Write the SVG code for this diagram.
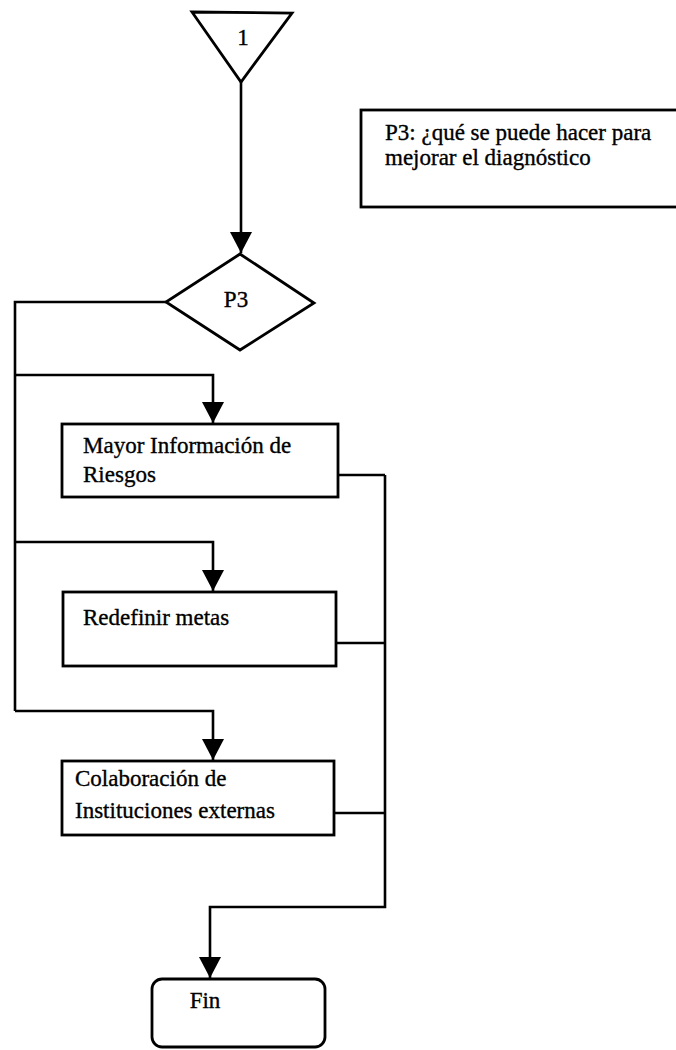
<svg xmlns="http://www.w3.org/2000/svg" width="676" height="1050" viewBox="0 0 676 1050">
  <style>
    .shape { fill: #fff; stroke: #000; stroke-width: 2.8; stroke-linejoin: miter; }
    .wire { fill: none; stroke: #000; stroke-width: 2.6; }
    .label { font-family: "Liberation Serif", "Times New Roman", serif; font-size: 23px; fill: #000; stroke: #000; stroke-width: 0.35; }
    .mid { text-anchor: middle; }
  </style>
  <defs>
    <marker id="arrow" markerUnits="userSpaceOnUse" markerWidth="24" markerHeight="24" viewBox="0 -12 22 24" refX="21" refY="0" orient="auto">
      <path d="M0,-11 L21,0 L0,11 Z" fill="#000"/>
    </marker>
  </defs>
  <rect width="676" height="1050" fill="#fff"/>

  <!-- connectors -->
  <g id="connectors">
    <path class="wire" d="M241,82 V253" marker-end="url(#arrow)"/>
    <path class="wire" d="M166,302 H15 V711"/>
    <path class="wire" d="M15,375 H213 V423" marker-end="url(#arrow)"/>
    <path class="wire" d="M15,542 H213 V591" marker-end="url(#arrow)"/>
    <path class="wire" d="M15,711 H213 V760" marker-end="url(#arrow)"/>
    <path class="wire" d="M338,475 H385"/>
    <path class="wire" d="M336,643 H385"/>
    <path class="wire" d="M334,813 H385"/>
    <path class="wire" d="M385,475 V907 H210 V978" marker-end="url(#arrow)"/>
  </g>

  <!-- off-page connector 1 -->
  <g id="node-start">
    <polygon class="shape" points="192,12 292,13 241,82"/>
    <text class="label mid" x="243" y="45">1</text>
  </g>

  <!-- annotation for P3 -->
  <g id="node-note">
    <rect class="shape" x="361" y="110" width="330" height="97"/>
    <text class="label" x="385" y="140">P3: ¿qué se puede hacer para</text>
    <text class="label" x="385" y="165">mejorar el diagnóstico</text>
  </g>

  <!-- decision P3 -->
  <g id="node-p3">
    <polygon class="shape" points="240,254 314,303 240,350 166,302"/>
    <text class="label mid" x="236" y="307">P3</text>
  </g>

  <!-- options -->
  <g id="node-info">
    <rect class="shape" x="62" y="424" width="276" height="73"/>
    <text class="label" x="83" y="453">Mayor Información de</text>
    <text class="label" x="83" y="482">Riesgos</text>
  </g>

  <g id="node-metas">
    <rect class="shape" x="63" y="592" width="273" height="74"/>
    <text class="label" x="83" y="625">Redefinir metas</text>
  </g>

  <g id="node-colab">
    <rect class="shape" x="62" y="761" width="272" height="74"/>
    <text class="label" x="75" y="786">Colaboración de</text>
    <text class="label" x="75" y="818">Instituciones externas</text>
  </g>

  <!-- terminator -->
  <g id="node-fin">
    <rect class="shape" x="152" y="979" width="173" height="68" rx="10" ry="10"/>
    <text class="label mid" x="205" y="1008">Fin</text>
  </g>
</svg>
